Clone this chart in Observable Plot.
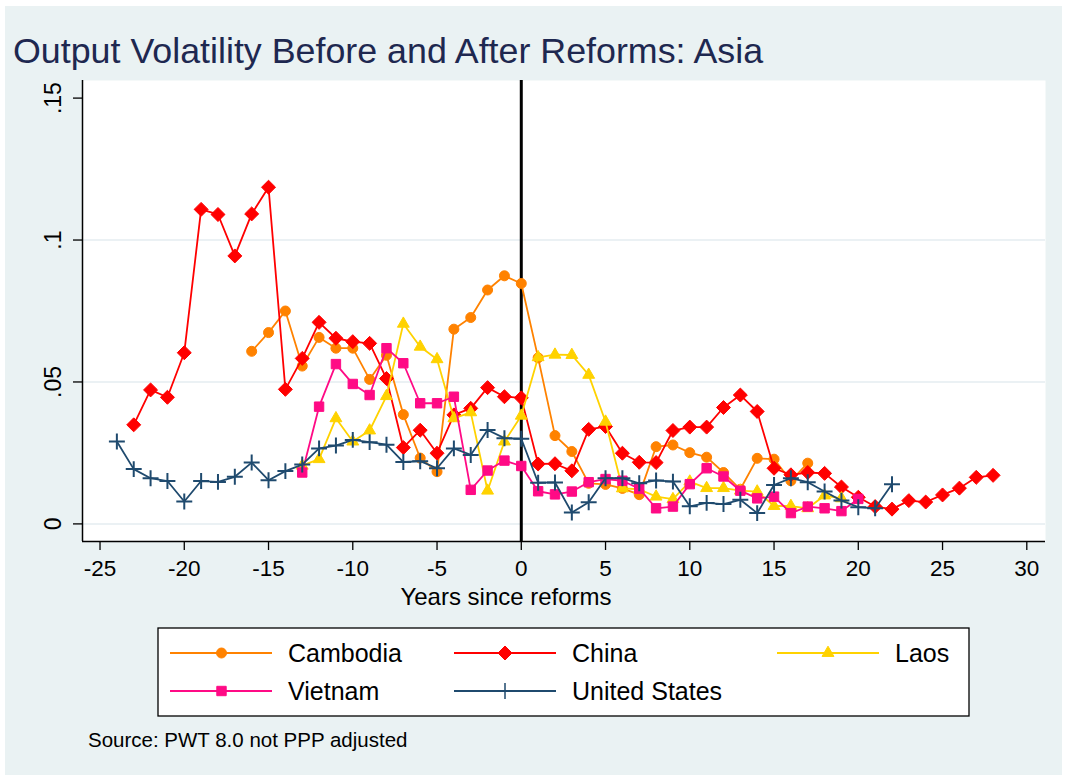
<!DOCTYPE html>
<html>
<head>
<meta charset="utf-8">
<script src="https://cdn.jsdelivr.net/npm/d3@7"></script>
<script src="https://cdn.jsdelivr.net/npm/@observablehq/plot@0.6"></script>
<style>
  html, body { margin: 0; padding: 0; background: #ffffff; }
  #wrap { position: relative; width: 1068px; height: 781px; background: #ffffff; overflow: hidden;
          font-family: "Liberation Sans", Arial, Helvetica, sans-serif; }
  #region { position: absolute; left: 5px; top: 6px; width: 1057px; height: 769px; background: #eaf2f3; }
  #plot { position: absolute; left: 0; top: 0; }
  #overlay { position: absolute; left: 0; top: 0; pointer-events: none; }
</style>
</head>
<body>
<div id="wrap">
  <div id="region"></div>
  <div id="plot"></div>
  <svg id="overlay" width="1068" height="781"></svg>
</div>
<script>
// ---------------- data ----------------
const countries = ["Cambodia", "China", "Laos", "Vietnam", "United States"];
const startYears = [-16, -23, -13, -13, -24];

const cambodia = [0.0608, 0.0674, 0.0750, 0.0556, 0.0657, 0.0619, 0.0619, 0.0509, 0.0594, 0.0385,
  0.0232, 0.0184, 0.0686, 0.0727, 0.0824, 0.0874, 0.0847, 0.0585, 0.0311, 0.0255,
  0.0143, 0.0139, 0.0125, 0.0103, 0.0272, 0.0278, 0.0251, 0.0235, 0.0181, 0.0122,
  0.0231, 0.0228, 0.0152, 0.0214];

const china = [0.0349, 0.0472, 0.0446, 0.0603, 0.1108, 0.1090, 0.0944, 0.1092, 0.1186, 0.0474,
  0.0583, 0.0710, 0.0654, 0.0642, 0.0636, 0.0512, 0.0269, 0.0330, 0.0249, 0.0384,
  0.0407, 0.0480, 0.0448, 0.0444, 0.0211, 0.0212, 0.0187, 0.0333, 0.0343, 0.0249,
  0.0217, 0.0216, 0.0329, 0.0341, 0.0341, 0.0410, 0.0454, 0.0396, 0.0196, 0.0173,
  0.0181, 0.0178, 0.0130, 0.0094, 0.0061, 0.0052, 0.0082, 0.0077, 0.0102, 0.0126,
  0.0164, 0.0171];

const laos = [0.0205, 0.0228, 0.0372, 0.0290, 0.0329, 0.0450, 0.0705, 0.0624, 0.0580, 0.0372,
  0.0393, 0.0117, 0.0290, 0.0381, 0.0587, 0.0596, 0.0595, 0.0525, 0.0360, 0.0125,
  0.0122, 0.0096, 0.0087, 0.0149, 0.0126, 0.0126, 0.0117, 0.0114, 0.0063, 0.0063,
  0.0055, 0.0100, 0.0090];

const vietnam = [0.0181, 0.0413, 0.0563, 0.0493, 0.0454, 0.0619, 0.0566, 0.0425, 0.0425, 0.0448,
  0.0120, 0.0188, 0.0223, 0.0204, 0.0115, 0.0104, 0.0114, 0.0147, 0.0158, 0.0152,
  0.0124, 0.0055, 0.0061, 0.0140, 0.0196, 0.0167, 0.0117, 0.0090, 0.0096, 0.0038,
  0.0061, 0.0055, 0.0045, 0.0088];

const unitedStates = [0.0290, 0.0193, 0.0161, 0.0151, 0.0079, 0.0151, 0.0148, 0.0166, 0.0216, 0.0154,
  0.0186, 0.0209, 0.0266, 0.0276, 0.0296, 0.0288, 0.0279, 0.0218, 0.0221, 0.0196,
  0.0266, 0.0243, 0.0331, 0.0302, 0.0300, 0.0145, 0.0146, 0.0040, 0.0076, 0.0161,
  0.0161, 0.0143, 0.0153, 0.0149, 0.0062, 0.0074, 0.0070, 0.0085, 0.0038, 0.0137,
  0.0161, 0.0147, 0.0114, 0.0082, 0.0059, 0.0055, 0.0140];

const seriesValues = [cambodia, china, laos, vietnam, unitedStates];

const xTicks = [-25, -20, -15, -10, -5, 0, 5, 10, 15, 20, 25, 30];
const xTickLabels = ["-25", "-20", "-15", "-10", "-5", "0", "5", "10", "15", "20", "25", "30"];
const yTicks = [0, 0.05, 0.1, 0.15];
const yTickLabels = ["0", ".05", ".1", ".15"];
const yGrid = [0, 0.05, 0.1];
const reformYear = [0];

const titleText = "Output Volatility Before and After Reforms: Asia";
const xLabel = "Years since reforms";
const sourceText = "Source: PWT 8.0 not PPP adjusted";

// ---------------- styles ----------------
const colors = ["#ff8200", "#ff0000", "#ffd200", "#ff0a85", "#1f4a6e"];
const symbols = ["circle", "diamond2", "triangle", "square", "plus"];
const radii = [5, 6.3, 4.4, 5.3, 5.2];
const filled = [true, true, true, true, false];

const xDomain = [-26.04, 31.11];
const yDomain = [-0.0062, 0.1562];

const seriesData = seriesValues.map((vals, k) =>
  vals.map((v, i) => ({country: countries[k], year: startYears[k] + i, value: v})));

const seriesMarks = seriesData.flatMap((data, k) => [
  Plot.line(data, {x: "year", y: "value", stroke: colors[k], strokeWidth: 1.8}),
  Plot.dot(data, {
    x: "year", y: "value", symbol: symbols[k], r: radii[k],
    fill: filled[k] ? colors[k] : "none", stroke: colors[k],
    strokeWidth: filled[k] ? 1 : 2
  })
]);

const fontFamily = '"Liberation Sans", Arial, Helvetica, sans-serif';

const chart = Plot.plot({
  width: 1068,
  height: 620,
  marginTop: 80,
  marginBottom: 79,
  marginLeft: 82,
  marginRight: 23,
  x: {domain: xDomain},
  y: {domain: yDomain},
  style: {background: "transparent", fontFamily, color: "black", overflow: "visible"},
  marks: [
    Plot.frame({fill: "white", stroke: "none"}),
    Plot.ruleY(yGrid, {stroke: "#e4edf0", strokeWidth: 1.5}),
    Plot.ruleX(reformYear, {stroke: "black", strokeWidth: 3}),
    ...seriesMarks,
    Plot.ruleX([xDomain[0]], {stroke: "black", strokeWidth: 1.5}),
    Plot.ruleY([yDomain[0]], {stroke: "black", strokeWidth: 1.5}),
    Plot.axisX({
      ticks: xTicks, tickSize: 9, tickPadding: 10, fontSize: 22.5, label: null,
      strokeWidth: 1.3,
      tickFormat: d => xTickLabels[xTicks.indexOf(d)]
    }),
    Plot.axisY({
      ticks: yTicks, tickSize: 9, tickPadding: 13, fontSize: 23, label: null,
      tickRotate: -90, strokeWidth: 1.3,
      tickFormat: d => yTickLabels[yTicks.indexOf(d)]
    })
  ]
});
document.getElementById("plot").appendChild(chart);

// ---------------- overlay: title, axis title, legend, source ----------------
const svg = d3.select("#overlay");
svg.append("text").attr("x", 13).attr("y", 63)
  .attr("font-family", fontFamily).attr("font-size", 35.8).attr("fill", "#1e2850")
  .text(titleText);

svg.append("text").attr("x", 506).attr("y", 605).attr("text-anchor", "middle")
  .attr("font-family", fontFamily).attr("font-size", 24).attr("fill", "black")
  .text(xLabel);

svg.append("rect").attr("x", 158).attr("y", 628).attr("width", 811).attr("height", 88)
  .attr("fill", "white").attr("stroke", "black").attr("stroke-width", 1.3);

const legendPos = [
  {lx: 170, mx: 221.5, tx: 288, y: 653},
  {lx: 454, mx: 505, tx: 572, y: 653},
  {lx: 777, mx: 828, tx: 895, y: 653},
  {lx: 170, mx: 221.5, tx: 288, y: 691},
  {lx: 454, mx: 505, tx: 572, y: 691}
];
const d3Symbols = {
  circle: d3.symbolCircle, diamond2: d3.symbolDiamond2, triangle: d3.symbolTriangle,
  square: d3.symbolSquare, plus: d3.symbolPlus
};
countries.forEach((name, k) => {
  const p = legendPos[k];
  svg.append("line").attr("x1", p.lx).attr("x2", p.lx + 102).attr("y1", p.y).attr("y2", p.y)
    .attr("stroke", colors[k]).attr("stroke-width", 2.2);
  svg.append("path")
    .attr("d", d3.symbol(d3Symbols[symbols[k]], Math.PI * radii[k] * radii[k])())
    .attr("transform", `translate(${p.mx},${p.y})`)
    .attr("fill", filled[k] ? colors[k] : "none").attr("stroke", colors[k])
    .attr("stroke-width", filled[k] ? 1 : 1.5);
  svg.append("text").attr("x", p.tx).attr("y", p.y + 9)
    .attr("font-family", fontFamily).attr("font-size", 25).attr("fill", "black")
    .text(name);
});

svg.append("text").attr("x", 88).attr("y", 747)
  .attr("font-family", fontFamily).attr("font-size", 20.5).attr("fill", "black")
  .text(sourceText);
</script>
</body>
</html>
